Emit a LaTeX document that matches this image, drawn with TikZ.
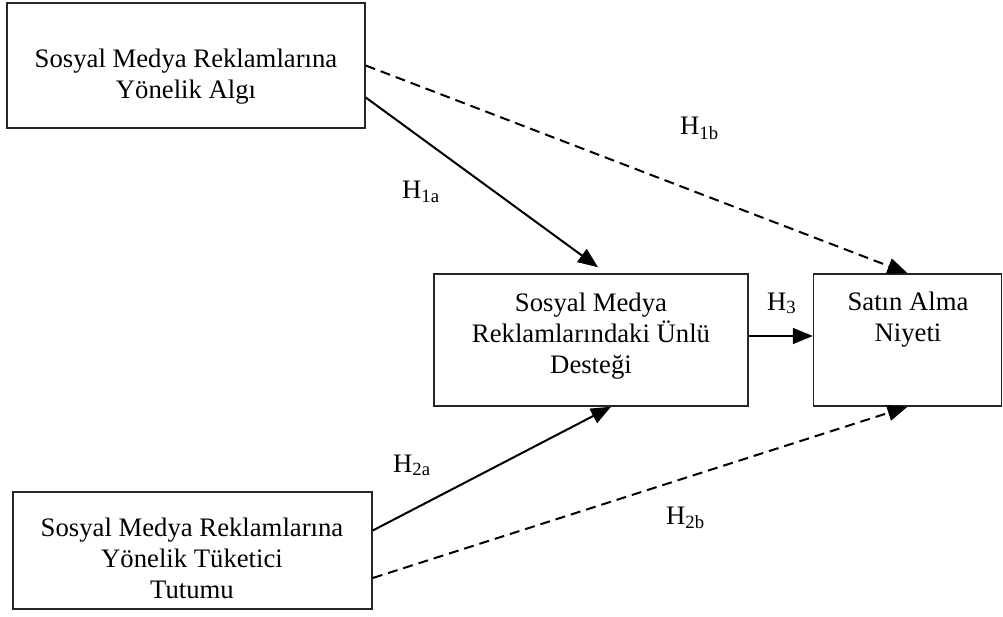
\documentclass[tikz,border=0pt]{standalone}
\usepackage{fontspec}
\setmainfont{Liberation Serif}
\usetikzlibrary{arrows.meta}
\tikzset{
  box/.style={draw=black!85, line width=1.5pt, rectangle, inner sep=0pt},
  boxtext/.style={align=center, inner sep=0pt, font=\fontsize{26.7}{31}\selectfont},
  hlabel/.style={anchor=base west, inner sep=0pt, font=\fontsize{26.7}{31}\selectfont},
  link/.style={line width=2pt, -{Triangle[length=20pt,width=16pt]}},
  dlink/.style={link, dash pattern=on 10pt off 6pt}
}
\begin{document}
\begin{tikzpicture}[x=1pt,y=-1pt]
\useasboundingbox (0,0) rectangle (1003,617);
% boxes
\node[box, minimum width=358pt, minimum height=125pt] (b1) at (186,65.5) {};
\node[box, minimum width=314pt, minimum height=132pt] (b2) at (591,340) {};
\node[box, minimum width=188pt, minimum height=132pt] (b3) at (907.5,340) {};
\node[box, minimum width=359pt, minimum height=117pt] (b4) at (192.5,550.5) {};
% texts
\node[boxtext] (t1) at (186,77) {Sosyal Medya Reklamlarına\\Yönelik Algı};
\node[boxtext] (t2) at (591,336) {Sosyal Medya\\Reklamlarındaki Ünlü\\Desteği};
\node[boxtext] (t3) at (908,320) {Satın Alma\\Niyeti};
\node[boxtext] (t4) at (192,558) {Sosyal Medya Reklamlarına\\Yönelik Tüketici\\Tutumu};
% connectors
\draw[link] ([yshift=-32pt]b1.east) -- ([xshift=7pt,yshift=6pt]b2.north);
\draw[dlink] (b1.east) -- (b3.north);
\draw[link] ([yshift=4pt]b2.east) -- ([yshift=4pt]b3.west);
\draw[link] ([yshift=20pt]b4.east) -- ([xshift=20pt]b2.south);
\draw[dlink] ([yshift=-27.5pt]b4.east) -- (b3.south);
% labels
\node[hlabel] (h1a) at (402,199) {H\textsubscript{1a}};
\node[hlabel] (h1b) at (680,135) {H\textsubscript{1b}};
\node[hlabel] (h3) at (767,310) {H\textsubscript{3}};
\node[hlabel] (h2a) at (393,472) {H\textsubscript{2a}};
\node[hlabel] (h2b) at (666,524) {H\textsubscript{2b}};
\end{tikzpicture}
\end{document}
